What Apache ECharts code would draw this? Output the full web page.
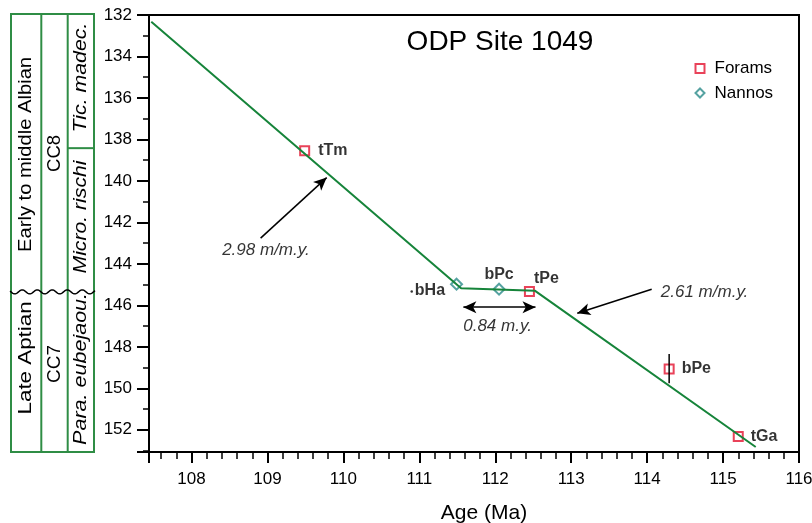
<!DOCTYPE html>
<html><head><meta charset="utf-8">
<script src="https://cdn.jsdelivr.net/npm/echarts@6/dist/echarts.min.js"></script>
<style>html,body{margin:0;padding:0;background:#fff}#c{width:812px;height:523px}</style>
</head><body><div id="c"></div>
<script>
const FONT = '"Liberation Sans", Arial, Helvetica, sans-serif';

// ---- data ----
const foramNames = ['tTm', 'tPe', 'bPe', 'tGa'];
const foramAge = [109.49, 112.45, 114.29, 115.20];
const foramDepth = [138.55, 145.33, 149.07, 152.32];

const nannoNames = ['bHa', 'bPc'];
const nannoAge = [111.49, 112.05];
const nannoDepth = [144.98, 145.22];

const lineAge = [107.47, 111.55, 112.52, 115.43];
const lineDepth = [132.32, 145.17, 145.29, 152.83];

const bPeErrAge = [114.29, 114.29];
const bPeErrDepth = [148.34, 149.75];

const dotAge = [110.90];
const dotDepth = [145.33];

const rateText = ['2.98 m/m.y.', '0.84 m.y.', '2.61 m/m.y.'];
const rateTextAge = [108.98, 112.03, 114.18];
const rateTextDepth = [143.33, 146.99, 145.35];

const arrowFromAge = [108.91, 111.58, 114.06];
const arrowFromDepth = [142.76, 146.09, 145.22];
const arrowToAge = [109.78, 112.53, 113.08];
const arrowToDepth = [139.84, 146.09, 146.38];
const arrowBothEnds = [false, true, false];

const xMin = 107.44, xMax = 116;
const yMin = 132, yMax = 153.07, yStep = 2;

const stageNames = ['Early to middle Albian', 'Late Aptian'];
const stageTops = [132, 145.35];
const zoneNames = ['CC8', 'CC7'];
const zoneTops = [132, 145.35];
const foramZoneNames = ['Tic. madec.', 'Micro. rischi', 'Para. eubejaou.'];
const foramZoneTops = [132, 138.42, 145.35];
const columnBase = 153.07;
const unconformityDepth = 145.35;

// ---- styles ----
const RED = '#e3132f', TEAL = '#2b8b89', GREEN = '#16843a', COLGREEN = '#2f8d45';
const foramLabelStyle = {
  tTm: {position: 'right', distance: 8},
  tPe: {position: 'top', distance: 2, offset: [17, 3]},
  bPe: {position: 'right', distance: 7},
  tGa: {position: 'right', distance: 7}
};
const nannoLabelStyle = {
  bHa: {position: 'left', distance: 5, offset: [0, 6]},
  bPc: {position: 'top', distance: 3, offset: [0, 3]}
};
const rateAlign = ['center', 'center', 'left'];
const labelBase = {show: true, fontFamily: FONT, fontSize: 16, fontWeight: 'bold', color: '#000'};
// column text style: [target length px, centre offset px]
const stageTextStyle = [[195, 1], [113, -14]];
const zoneTextStyle = [[37, 0], [38, -8]];
const foramZoneTextStyle = [[110, -4], [113, -3], [152, -3]];

const chart = echarts.init(document.getElementById('c'), null, {renderer: 'canvas'});

const arrowData = arrowFromAge.map((a, i) => [
  {coord: [a, arrowFromDepth[i]], symbol: arrowBothEnds[i] ? 'arrow' : 'none', symbolSize: [9, 13]},
  {coord: [arrowToAge[i], arrowToDepth[i]], symbol: 'arrow', symbolSize: [9, 13]}
]);

chart.setOption({
  animation: false,
  backgroundColor: '#fff',
  textStyle: {fontFamily: FONT},
  title: {
    text: 'ODP Site 1049', left: 500, top: 28, padding: 0, textAlign: 'center',
    textStyle: {fontFamily: FONT, fontSize: 28, fontWeight: 'normal', color: '#000'}
  },
  legend: {
    data: ['Forams', 'Nannos'], orient: 'vertical', left: 694.5, top: 60,
    itemWidth: 9, itemHeight: 9, itemGap: 7.5, padding: 0,
    textStyle: {fontFamily: FONT, fontSize: 17, color: '#000', padding: [0, 0, 0, 5]}
  },
  grid: {left: 149, right: 13, top: 15, bottom: 71, show: true, borderColor: '#000', borderWidth: 2,
         containLabel: false, outerBoundsMode: 'none'},
  xAxis: {
    type: 'value', min: xMin, max: xMax, splitNumber: 8,
    axisLine: {show: true, onZero: false, lineStyle: {color: '#000', width: 2}},
    axisTick: {show: true, length: 11, lineStyle: {color: '#000', width: 2}},
    minorTick: {show: true, splitNumber: 5, length: 7, lineStyle: {color: '#000', width: 1.5}},
    axisLabel: {fontFamily: FONT, fontSize: 17, color: '#000', margin: 19, showMinLabel: false},
    splitLine: {show: false},
    name: 'Age (Ma)', nameLocation: 'middle', nameGap: 51,
    nameTextStyle: {fontFamily: FONT, fontSize: 21, color: '#000', padding: [0, 0, 0, 20]}
  },
  yAxis: {
    type: 'value', inverse: true, min: yMin, max: yMax, interval: yStep,
    axisLine: {show: true, onZero: false, lineStyle: {color: '#000', width: 2}},
    axisTick: {show: true, length: 12, lineStyle: {color: '#000', width: 2}},
    minorTick: {show: true, splitNumber: 2, length: 6, lineStyle: {color: '#000', width: 1.5}},
    axisLabel: {fontFamily: FONT, fontSize: 17, color: '#000', margin: 17, showMaxLabel: false},
    splitLine: {show: false}
  },
  series: [
    {
      name: 'Forams', type: 'scatter', symbol: 'emptyRect', symbolSize: 9, z: 3,
      itemStyle: {color: RED, borderColor: RED, borderWidth: 2},
      data: foramAge.map((a, i) => ({
        value: [a, foramDepth[i]], name: foramNames[i],
        label: Object.assign({}, labelBase, foramLabelStyle[foramNames[i]], {formatter: foramNames[i]})
      })),
      emphasis: {disabled: true}
    },
    {
      name: 'Nannos', type: 'scatter', symbol: 'emptyDiamond', symbolSize: 11, z: 3,
      itemStyle: {color: TEAL, borderColor: TEAL, borderWidth: 2},
      data: nannoAge.map((a, i) => ({
        value: [a, nannoDepth[i]], name: nannoNames[i],
        label: Object.assign({}, labelBase, nannoLabelStyle[nannoNames[i]], {formatter: nannoNames[i]})
      })),
      emphasis: {disabled: true}
    },
    {
      name: 'age model', type: 'line', symbol: 'none', z: 5, silent: true,
      lineStyle: {color: GREEN, width: 2},
      data: lineAge.map((a, i) => [a, lineDepth[i]])
    },
    {
      name: 'bPe range', type: 'line', symbol: 'none', z: 4, silent: true,
      lineStyle: {color: '#000', width: 1.5},
      data: bPeErrAge.map((a, i) => [a, bPeErrDepth[i]])
    },
    {
      name: 'dot', type: 'scatter', symbol: 'circle', symbolSize: 2.5, silent: true,
      itemStyle: {color: '#000'},
      data: dotAge.map((a, i) => [a, dotDepth[i]])
    },
    {
      name: 'rates', type: 'scatter', symbolSize: 0, silent: true, z: 6,
      data: rateTextAge.map((a, i) => ({
        value: [a, rateTextDepth[i]],
        label: {show: true, position: 'inside', formatter: rateText[i], align: rateAlign[i],
                fontFamily: FONT, fontSize: 17, fontStyle: 'italic', color: '#000'}
      })),
      markLine: {
        silent: true, animation: false,
        label: {show: false},
        lineStyle: {color: '#000', width: 1.5, type: 'solid'},
        emphasis: {disabled: true},
        data: arrowData
      }
    }
  ]
});

// ---- stratigraphic column (built from depth boundaries through the y axis) ----
function yPx(v) { return chart.convertToPixel({yAxisIndex: 0}, v); }
const measureCtx = document.createElement('canvas').getContext('2d');
function textWidth(t, font) { measureCtx.font = font; return measureCtx.measureText(t).width; }
const colX = [11, 41.3, 67.7, 94];
const g = [];
const yTop = yPx(yMin) - 1, yBot = yPx(columnBase);
const yUnc = yPx(unconformityDepth);
const lineSt = {stroke: COLGREEN, lineWidth: 2, fill: null};
g.push({type: 'rect', shape: {x: colX[0], y: yTop, width: colX[3] - colX[0], height: yBot - yTop}, style: lineSt, z: 10});
g.push({type: 'line', shape: {x1: colX[1], y1: yTop, x2: colX[1], y2: yBot}, style: lineSt, z: 10});
g.push({type: 'line', shape: {x1: colX[2], y1: yTop, x2: colX[2], y2: yBot}, style: lineSt, z: 10});
for (let i = 1; i < foramZoneTops.length; i++) {
  if (foramZoneTops[i] === unconformityDepth) continue;
  const y = yPx(foramZoneTops[i]);
  g.push({type: 'line', shape: {x1: colX[2], y1: y, x2: colX[3], y2: y}, style: lineSt, z: 10});
}
// wavy unconformity
const pts = [];
for (let x = colX[0] - 1; x <= colX[3] + 1; x += 0.5) pts.push([x, yUnc + 2 * Math.sin((x - colX[0]) / 15 * 2 * Math.PI)]);
g.push({type: 'polyline', shape: {points: pts}, style: {stroke: '#000', lineWidth: 1.5, fill: null}, z: 11});

function colTexts(names, tops, c0, c1, italic, st) {
  const fs = italic ? 18 : 19;
  const font = (italic ? 'italic ' : '') + fs + 'px ' + FONT;
  names.forEach((n, i) => {
    const t = yPx(tops[i]);
    const b = i + 1 < tops.length ? yPx(tops[i + 1]) : yBot;
    const sx = st[i][0] / textWidth(n, font);
    g.push({
      type: 'text', x: (c0 + c1) / 2, y: (t + b) / 2 + st[i][1], rotation: Math.PI / 2, scaleX: sx, z: 12,
      style: {text: n, fontFamily: FONT, fontSize: fs, fontStyle: italic ? 'italic' : 'normal',
              fill: '#000', align: 'center', verticalAlign: 'middle'}
    });
  });
}
colTexts(stageNames, stageTops, colX[0], colX[1], false, stageTextStyle);
colTexts(zoneNames, zoneTops, colX[1], colX[2], false, zoneTextStyle);
colTexts(foramZoneNames, foramZoneTops, colX[2], colX[3], true, foramZoneTextStyle);

chart.setOption({graphic: g});
</script>
</body></html>
